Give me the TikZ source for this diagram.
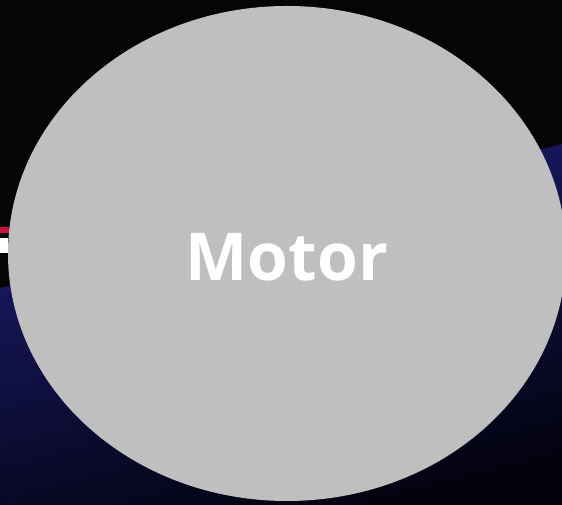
\documentclass[tikz,border=0pt]{standalone}
\usepackage{fontspec}
\setsansfont{Open Sans}
\usetikzlibrary{shapes.geometric}
\definecolor{bg}{RGB}{5,5,5}
\definecolor{navy}{RGB}{28,28,112}
\definecolor{deepnavy}{RGB}{2,2,14}
\definecolor{motorgray}{RGB}{191,191,191}
\definecolor{crimson}{RGB}{200,16,60}

\begin{document}
\begin{tikzpicture}[
    x=1pt, y=1pt,
    motor/.style={ellipse, fill=motorgray, inner sep=0pt, minimum width=558pt, minimum height=495pt,
        text=white, font=\sffamily\bfseries\fontsize{66}{80}\selectfont},
    band/.style={top color=navy, bottom color=deepnavy, shading angle=14.4}
]
    \fill[bg] (0,0) rectangle (562,505);
    \useasboundingbox (0,0) rectangle (562,505);

    % floor band behind the motor
    \shade[band] (0,217) -- (562,361) -- (562,0) -- (0,0) -- cycle;

    % wire stubs on the left
    \fill[crimson] (0,272) rectangle (9,278);
    \fill[white] (0,252) rectangle (8,267);

    \node[motor, text height=54pt, text depth=0pt] (motor) at (287,251.5) {Motor};
\end{tikzpicture}
\end{document}
